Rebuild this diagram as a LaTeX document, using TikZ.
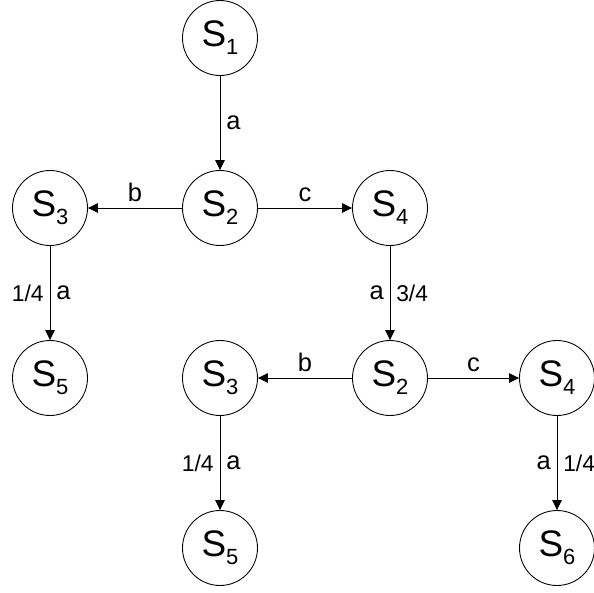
\documentclass[tikz,border=0pt]{standalone}
\usepackage{fontspec}
\setmainfont{Liberation Sans}
\usetikzlibrary{arrows.meta}

\newcommand{\stname}[1]{S\raisebox{-4.5pt}{\fontsize{12.5}{12}\selectfont #1}}

\begin{document}
\begin{tikzpicture}[
    state/.style={circle, draw, line width=0.5pt, minimum size=1.5cm, inner sep=0pt, font=\fontsize{21}{21}\selectfont},
    lbl/.style={font=\fontsize{14.5}{16}\selectfont},
    prob/.style={font=\fontsize{13}{14}\selectfont},
    tr/.style={-{Triangle[length=2mm,width=1.9mm]}, line width=0.5pt}]

    \useasboundingbox (0,0) rectangle (11.88,-11.86);

    \node[state] (s1) at (4.4,-0.76) {\stname{1}};
    \node[state] (s2) at (4.4,-4.16) {\stname{2}};
    \node[state] (s3) at (1.0,-4.16) {\stname{3}};
    \node[state] (s4) at (7.8,-4.16) {\stname{4}};
    \node[state] (s5) at (1.0,-7.56) {\stname{5}};
    \node[state] (s2b) at (7.8,-7.56) {\stname{2}};
    \node[state] (s3b) at (4.4,-7.56) {\stname{3}};
    \node[state] (s4b) at (11.14,-7.56) {\stname{4}};
    \node[state] (s5b) at (4.4,-10.96) {\stname{5}};
    \node[state] (s6) at (11.14,-10.96) {\stname{6}};

    \draw[tr] (s1) -- (s2) node[midway, right, lbl] {a};
    \draw[tr] (s2) -- (s3) node[midway, above, lbl] {b};
    \draw[tr] (s2) -- (s4) node[midway, above, lbl] {c};
    \draw[tr] (s3) -- (s5) node[midway, right, lbl] {a} node[midway, left, prob] {1/4};
    \draw[tr] (s4) -- (s2b) node[midway, left, lbl] {a} node[midway, right, prob] {3/4};
    \draw[tr] (s2b) -- (s3b) node[midway, above, lbl] {b};
    \draw[tr] (s2b) -- (s4b) node[midway, above, lbl] {c};
    \draw[tr] (s3b) -- (s5b) node[midway, right, lbl] {a} node[midway, left, prob] {1/4};
    \draw[tr] (s4b) -- (s6) node[midway, left, lbl] {a} node[midway, right, prob] {1/4};
\end{tikzpicture}
\end{document}
